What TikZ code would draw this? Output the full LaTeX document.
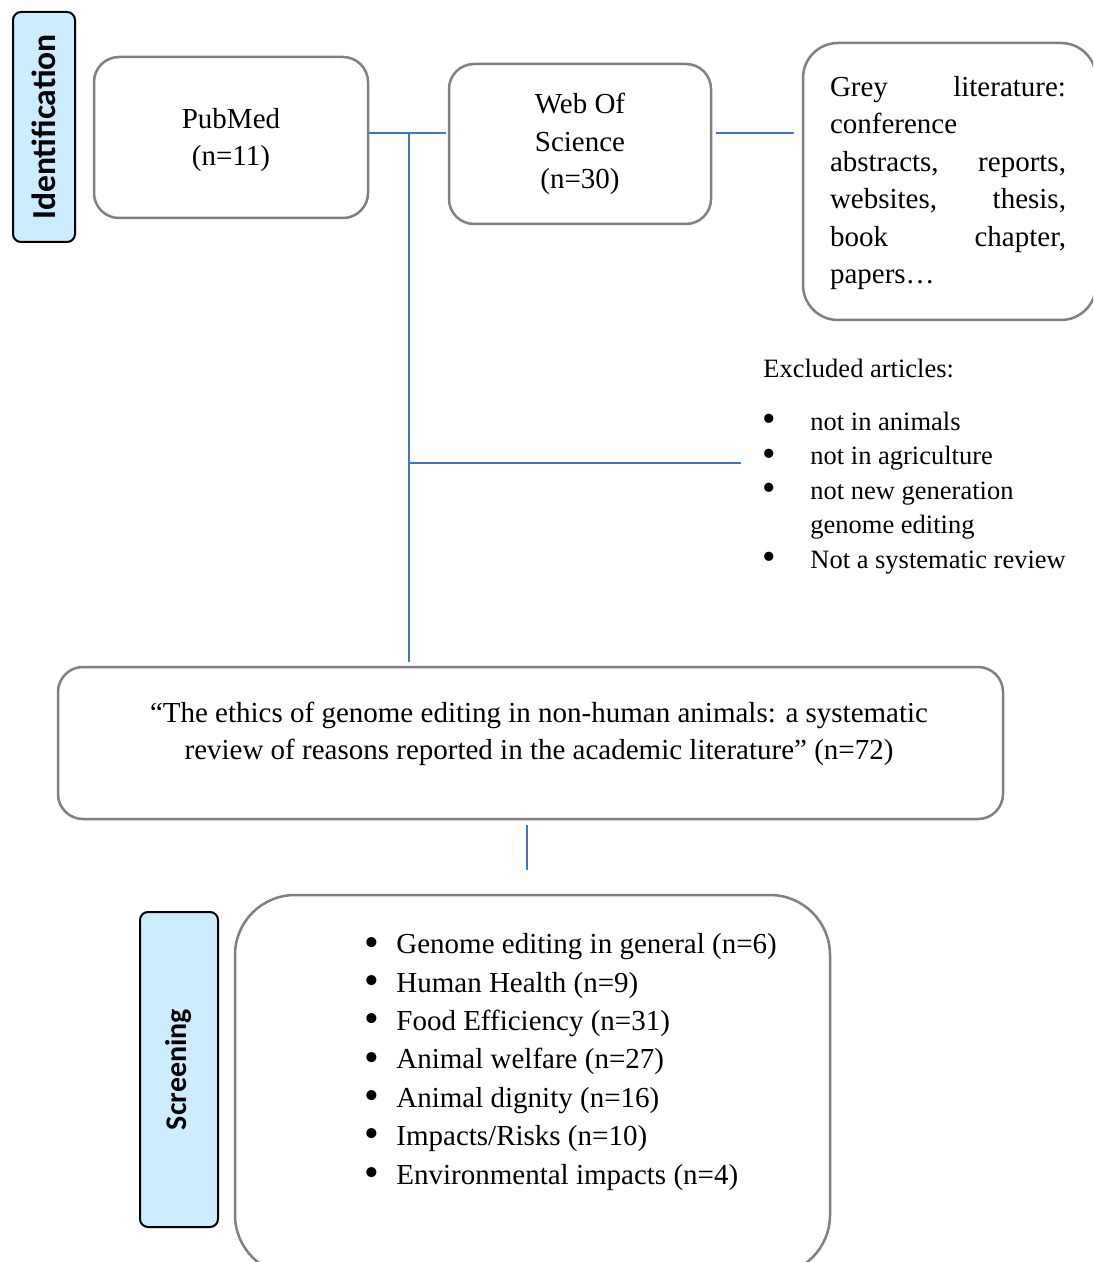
\documentclass[tikz,border=0pt]{standalone}
\usepackage{fontspec}
\setmainfont{Liberation Serif}
\newfontfamily\labfont{Carlito}
\definecolor{boxgray}{RGB}{128,128,128}
\definecolor{linkblue}{RGB}{68,114,196}
\definecolor{labblue}{RGB}{204,236,255}
\newcommand{\mybul}[1]{\makebox[#1][l]{\smash{\raisebox{-0.07em}{\scalebox{1.45}{\textbullet}}}}}
\begin{document}
\begin{tikzpicture}[x=0.5pt,y=-0.5pt,
  box/.style={draw=boxgray, line width=1.25pt, rounded corners=12.5pt, fill=white, inner sep=0pt},
  labbox/.style={draw=black, line width=1pt, fill=labblue, rounded corners=4pt, rotate=90, inner sep=0pt},
  link/.style={draw=linkblue, line width=0.75pt},
  txt/.style={font=\fontsize{14.5}{18.8}\selectfont, align=center, inner sep=0pt}]
\useasboundingbox (0,0) rectangle (1093,1262);
\clip (0,0) rectangle (1093,1262);

% Identification stage
\node[labbox, minimum width=115pt, minimum height=31pt, font=\labfont\bfseries\fontsize{16.8}{20}\selectfont] (ident) at (44,127) {Identification};
\node[box, minimum width=137pt, minimum height=80.5pt] (pub) at (231,137.5) {};
\node[txt] (pubtxt) at (231,140) {PubMed\\(n=11)};
\node[box, txt, minimum width=131pt, minimum height=80pt] (wos) at (580,144) {Web Of\\Science\\(n=30)};
\node[box, rounded corners=17.5pt, minimum width=146.5pt, minimum height=138.5pt] (grey) at (949.5,181.5) {};
\node[inner sep=0pt, align=left, font=\fontsize{14.5}{18.7}\selectfont] (greytxt) at (948,183)
  {\makebox[118pt][s]{Grey literature:}\\
   \makebox[118pt][l]{conference}\\
   \makebox[118pt][s]{abstracts, reports,}\\
   \makebox[118pt][s]{websites, thesis,}\\
   \makebox[118pt][s]{book chapter,}\\
   \makebox[118pt][l]{papers…}};

% Excluded articles
\node[anchor=base west, inner sep=0pt, font=\fontsize{13.25}{17.25}\selectfont] (exhead) at (763,378) {Excluded articles:};
\node[anchor=base west, inner sep=0pt, align=left, font=\fontsize{13.25}{17.25}\selectfont] (exlist) at (762,568)
  {\mybul{24pt}not in animals\\
   \mybul{24pt}not in agriculture\\
   \mybul{24pt}not new generation\\
   \hspace*{24pt}genome editing\\
   \mybul{24pt}Not a systematic review};

% Included review
\node[box, minimum width=472.5pt, minimum height=76pt] (main) at (530.5,743) {};
\node[txt] (maintxt) at (539,734)
  {“The ethics of genome editing in non-human animals: a systematic\\
   review of reasons reported in the academic literature” (n=72)};

% Screening stage
\node[labbox, minimum width=157.5pt, minimum height=39pt, font=\labfont\bfseries\fontsize{15}{18}\selectfont] (screen) at (179,1069.5) {Screening};
\node[box, rounded corners=30pt, minimum width=297.5pt, minimum height=190pt] (cats) at (532.5,1085) {};
\node[anchor=base west, inner sep=0pt, align=left, font=\fontsize{14.5}{19.17}\selectfont] (catlist) at (364,1184)
  {\mybul{16pt}Genome editing in general (n=6)\\
   \mybul{16pt}Human Health (n=9)\\
   \mybul{16pt}Food Efficiency (n=31)\\
   \mybul{16pt}Animal welfare (n=27)\\
   \mybul{16pt}Animal dignity (n=16)\\
   \mybul{16pt}Impacts/Risks (n=10)\\
   \mybul{16pt}Environmental impacts (n=4)};

% Connectors
\coordinate (j1) at (409,133);
\coordinate (j2) at (409,463);
\coordinate (exend) at (741,463);
\coordinate (d1) at (527,825);
\coordinate (d2) at (527,870);
\draw[link] (pub.east |- j1) -- ([xshift=-1pt]wos.west |- j1);
\draw[link] ([xshift=2pt]wos.east |- j1) -- ([xshift=-4pt]grey.west |- j1);
\draw[link] (j1) -- ([yshift=2pt]j1 |- main.north);
\draw[link] (j2) -- (exend);
\draw[link] (d1) -- (d2);
\end{tikzpicture}
\end{document}
